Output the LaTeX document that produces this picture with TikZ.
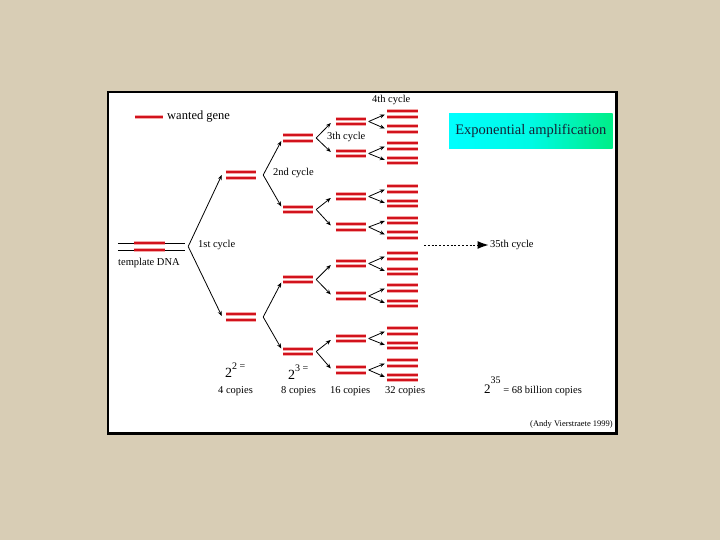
\documentclass[tikz,border=0pt]{standalone}
\usepackage{fontspec}
\setmainfont{Liberation Serif}
\usetikzlibrary{arrows.meta}
\definecolor{bgbeige}{RGB}{216,205,181}
\definecolor{genered}{RGB}{210,18,28}
\definecolor{genehalo}{RGB}{244,168,168}
\definecolor{titletext}{RGB}{20,35,55}
\definecolor{tcyan}{RGB}{0,255,255}
\definecolor{tmid}{RGB}{0,250,228}
\definecolor{tgreen}{RGB}{0,238,135}
\tikzset{
  pairnode/.style={inner sep=0pt, minimum width=30pt, minimum height=6pt},
  halo/.style={genehalo, line width=3.8pt},
  core/.style={genered, line width=2.4pt},
  arr/.style={line width=0.8pt, -{Stealth[length=5pt,width=4pt]}},
  lbl/.style={font=\fontsize{10.5}{12}\selectfont, inner sep=0pt},
}
\newcommand{\strand}[2]{%
  \draw[halo] ([yshift=#2]#1.west) -- ([yshift=#2]#1.east);
  \draw[core] ([yshift=#2]#1.west) -- ([yshift=#2]#1.east);}
\newcommand{\dpair}[1]{\strand{#1}{2.75pt}\strand{#1}{-2.75pt}}
\newcommand{\fork}[6]{%
  \coordinate (#1v) at ([xshift=#4]#1.east);
  \draw[arr] (#1v) -- ([xshift=#5, yshift=-#6]#2.west);
  \draw[arr] (#1v) -- ([xshift=#5, yshift=#6]#3.west);}
\begin{document}
\begin{tikzpicture}[x=1pt, y=-1pt]
\fill[bgbeige] (0,0) rectangle (720,540);
\useasboundingbox (0,0) rectangle (720,540);
\draw[line width=2.8pt, fill=white] (108,92) rectangle (616.5,433.5);

% legend
\node[pairnode, minimum width=28pt] (leg) at (149,117) {};
\strand{leg}{0pt}
\node[anchor=west, inner sep=0pt, font=\fontsize{12.5}{14}\selectfont] (legtxt) at (167,117) {wanted gene};

% template DNA
\node[pairnode, minimum width=67pt, minimum height=7pt] (tmpl) at (151.5,246.5) {};
\draw[line width=1pt] ([yshift=3.5pt]tmpl.west) -- ([yshift=3.5pt]tmpl.east);
\draw[line width=1pt] ([yshift=-3.5pt]tmpl.west) -- ([yshift=-3.5pt]tmpl.east);
\node[pairnode, minimum width=31pt, minimum height=7pt] (tgene) at (149.5,246.5) {};
\strand{tgene}{3.5pt}\strand{tgene}{-3.5pt}
\node[lbl, anchor=west] (tmpltxt) at (118,263) {template DNA};

% column 1
\node[pairnode] (c1a) at (241,175) {};
\node[pairnode] (c1b) at (241,317) {};
% column 2
\foreach \n/\y in {c2a/138, c2b/209.5, c2c/279.5, c2d/351.5}
  \node[pairnode] (\n) at (298,\y) {};
% column 3
\foreach \n/\y in {c3a/121.5, c3b/153.5, c3c/196.5, c3d/227, c3e/263.5, c3f/296, c3g/338.5, c3h/370}
  \node[pairnode] (\n) at (351,\y) {};
% column 4
\foreach \n/\y in {d1/114, d2/129, d3/146, d4/160.5, d5/189, d6/203.5, d7/220.5, d8/235,
                   d9/256, d10/271.5, d11/288, d12/303.5, d13/331, d14/345.5, d15/363, d16/377.5}
  \node[pairnode, minimum width=31pt] (\n) at (402.5,\y) {};

\foreach \n in {c1a,c1b,c2a,c2b,c2c,c2d,c3a,c3b,c3c,c3d,c3e,c3f,c3g,c3h,
                d1,d2,d3,d4,d5,d6,d7,d8,d9,d10,d11,d12,d13,d14,d15,d16}
  {\dpair{\n}}

% 1st cycle
\coordinate (v0) at ([xshift=3pt]tmpl.east);
\draw[arr] (v0) -- ([xshift=-4pt]c1a.west);
\draw[arr] (v0) -- ([xshift=-4pt, yshift=1pt]c1b.west);
% 2nd cycle
\fork{c1a}{c2a}{c2b}{7pt}{-1.5pt}{3pt}
\fork{c1b}{c2c}{c2d}{7pt}{-1.5pt}{3pt}
% 3rd cycle
\fork{c2a}{c3a}{c3b}{3pt}{-5pt}{1.5pt}
\fork{c2b}{c3c}{c3d}{3pt}{-5pt}{1.5pt}
\fork{c2c}{c3e}{c3f}{3pt}{-5pt}{1.5pt}
\fork{c2d}{c3g}{c3h}{3pt}{-5pt}{1.5pt}
% 4th cycle
\fork{c3a}{d1}{d2}{2.5pt}{-2pt}{0.5pt}
\fork{c3b}{d3}{d4}{2.5pt}{-2pt}{0.5pt}
\fork{c3c}{d5}{d6}{2.5pt}{-2pt}{0.5pt}
\fork{c3d}{d7}{d8}{2.5pt}{-2pt}{0.5pt}
\fork{c3e}{d9}{d10}{2.5pt}{-2pt}{0.5pt}
\fork{c3f}{d11}{d12}{2.5pt}{-2pt}{0.5pt}
\fork{c3g}{d13}{d14}{2.5pt}{-2pt}{0.5pt}
\fork{c3h}{d15}{d16}{2.5pt}{-2pt}{0.5pt}

% cycle labels
\node[lbl, anchor=west] (cy1) at (198,245) {1st cycle};
\node[lbl, anchor=west] (cy2) at (273,173) {2nd cycle};
\node[lbl, anchor=west] (cy3) at (327,137) {3th cycle};
\node[lbl, anchor=west] (cy4) at (372,100) {4th cycle};

% 35th cycle
\coordinate (dstart) at (424,245);
\node[lbl, anchor=west] (cy35) at (490,245) {35th cycle};
\draw[line width=1pt, dash pattern=on 2pt off 1.8pt, -{Latex[length=11pt,width=8pt]}] (dstart) -- ([xshift=-1.5pt]cy35.west);

% title
\node[inner sep=0pt, minimum width=163.5pt, minimum height=35pt,
      left color=tcyan, right color=tgreen, middle color=tmid,
      text=titletext, font=\fontsize{14.5}{16}\selectfont] (title) at (530.75,130.75) {Exponential amplification};

% copies labels
\node[anchor=base west, inner sep=0pt] (e2) at (225,377)
  {\fontsize{14}{14}\selectfont 2\raisebox{8pt}{\fontsize{10}{10}\selectfont 2 =}};
\node[anchor=base west, inner sep=0pt] (e3) at (288,379.5)
  {\fontsize{14}{14}\selectfont 2\raisebox{8pt}{\fontsize{10}{10}\selectfont 3 =}};
\node[lbl, anchor=west] (n4) at (218,391) {4 copies};
\node[lbl, anchor=west] (n8) at (281,391) {8 copies};
\node[lbl, anchor=west] (n16) at (330,391) {16 copies};
\node[lbl, anchor=west] (n32) at (385,391) {32 copies};
\node[anchor=base west, inner sep=0pt] (e35) at (484,393.5)
  {\fontsize{13}{13}\selectfont 2\raisebox{10pt}{\fontsize{10}{10}\selectfont 35}\fontsize{10.5}{12}\selectfont\ = 68 billion copies};

% credit
\node[anchor=east, inner sep=0pt, font=\fontsize{8.5}{10}\selectfont] (credit) at (613,424) {(Andy Vierstraete 1999)};
\end{tikzpicture}
\end{document}
